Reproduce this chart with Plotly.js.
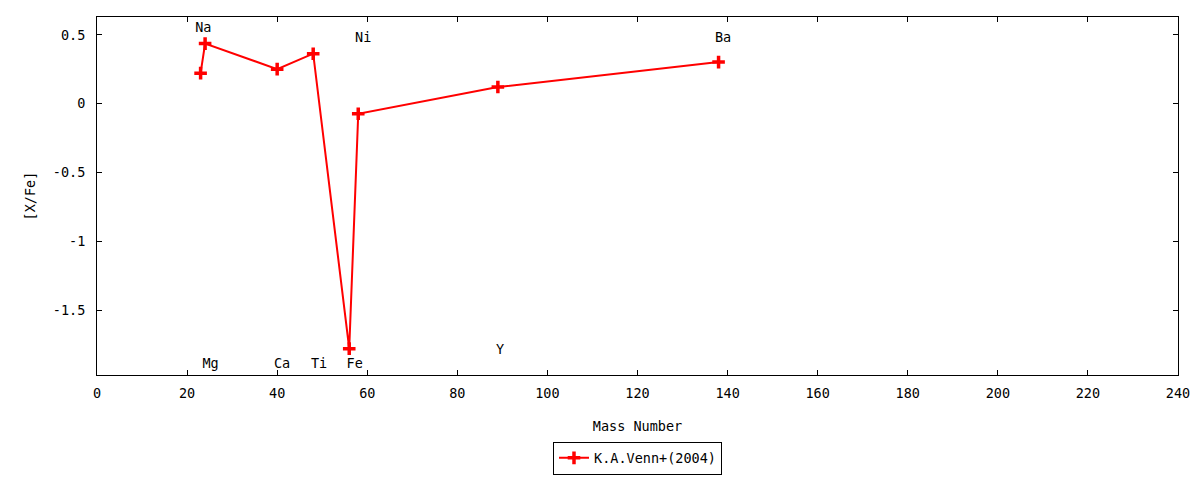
<!DOCTYPE html>
<html>
<head>
<meta charset="utf-8">
<script src="https://cdn.plot.ly/plotly-3.0.1.min.js"></script>
<style>html,body{margin:0;padding:0;background:#fff;}#chart{width:1200px;height:480px;}</style>
</head>
<body>
<div id="chart"></div>
<script>
// Data
const massNumber = [23, 24, 40, 48, 56, 58, 89, 138];
const xFe = [0.222, 0.436, 0.251, 0.363, -1.776, -0.073, 0.121, 0.302];
const seriesName = 'K.A.Venn+(2004)';

// Element labels as drawn on the chart
const labelText = ['Na', 'Mg', 'Ca', 'Ti', 'Fe', 'Ni', 'Y', 'Ba'];
const labelX = [23.6, 25.2, 41.1, 49.3, 57.2, 59.1, 89.5, 139.0];
const labelY = [0.545, -1.89, -1.89, -1.89, -1.89, 0.472, -1.788, 0.472];

// Tick labels
const xTickVals = [0, 20, 40, 60, 80, 100, 120, 140, 160, 180, 200, 220, 240];
const xTickText = ['0', '20', '40', '60', '80', '100', '120', '140', '160', '180', '200', '220', '240'];
const yTickVals = [0.5, 0, -0.5, -1, -1.5];
const yTickText = ['0.5', '0', '-0.5', '-1', '-1.5'];

const font = {family: 'DejaVu Sans Mono, monospace', size: 13.5, color: '#000'};

const traces = [
  {
    x: massNumber, y: xFe, name: seriesName,
    type: 'scatter', mode: 'lines+markers',
    line: {color: '#ff0000', width: 2},
    marker: {symbol: 'cross-thin-open', size: 9, color: '#ff0000', line: {color: '#ff0000', width: 3.5}},
    cliponaxis: false
  },
  {
    x: labelX, y: labelY, text: labelText,
    type: 'scatter', mode: 'text', showlegend: false, hoverinfo: 'skip',
    textfont: font, textposition: 'middle center', cliponaxis: false
  }
];

const layout = {
  width: 1200, height: 480,
  margin: {l: 97, r: 22, t: 17, b: 105, autoexpand: false},
  paper_bgcolor: '#fff', plot_bgcolor: '#fff',
  font: font,
  showlegend: true,
  legend: {
    orientation: 'h', x: 0.5, xanchor: 'center', y: -0.232, yanchor: 'middle',
    bordercolor: '#000', borderwidth: 1, font: font, bgcolor: '#fff'
  },
  xaxis: {
    range: [0, 240], showgrid: false, zeroline: false,
    showline: true, linecolor: '#000', linewidth: 1, mirror: 'ticks',
    ticks: 'inside', ticklen: 5, tickcolor: '#000',
    tickmode: 'array', tickvals: xTickVals, ticktext: xTickText,
    tickfont: font, ticklabelstandoff: 6,
    title: {text: 'Mass Number', font: font, standoff: 21}
  },
  yaxis: {
    range: [-1.967, 0.629], showgrid: false, zeroline: false,
    showline: true, linecolor: '#000', linewidth: 1, mirror: 'ticks',
    ticks: 'inside', ticklen: 5, tickcolor: '#000',
    tickmode: 'array', tickvals: yTickVals, ticktext: yTickText,
    tickfont: font, ticklabelstandoff: 8,
    title: {text: '[X/Fe]', font: font, standoff: 14}
  }
};

Plotly.newPlot('chart', traces, layout, {displayModeBar: false, staticPlot: true});
</script>
</body>
</html>
